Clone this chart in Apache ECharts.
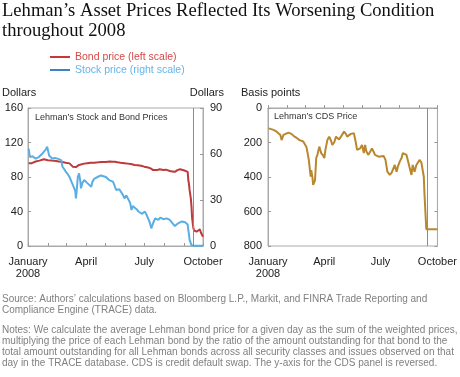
<!DOCTYPE html>
<html>
<head>
<meta charset="utf-8">
<script src="https://cdn.jsdelivr.net/npm/echarts@6/dist/echarts.min.js"></script>
<style>
html, body { margin: 0; padding: 0; background: #fff; }
#chart { width: 460px; height: 377px; }
</style>
</head>
<body>
<div id="chart"></div>
<script>
//*************** data (days counted from 1 January 2008) ***************
var monthTickDays = [0, 31, 60, 91, 121, 152, 182, 213, 244, 274];
var monthLabelDays = [0, 91, 182, 274];
var monthLabels = ['January\n2008', 'April', 'July', 'October'];
var bankruptcyDay = 258; // 15 September

var bondDays = [1,3,6,9,12,15,18,21,25,28,31,34,37,40,44,48,52,55,59,62,65,68,70,72,75,78,80,83,88,93,98,104,110,116,122,128,132,136,140,145,151,156,161,167,172,177,182,188,192,196,199,202,206,209,212,216,219,222,226,230,234,238,241,245,248,250,251,252,253,255,256,257,259,260,262,264,266,269,271,273,274];
var bondPrice = [96,97.5,96,97,98,98.5,99,99.5,100.5,100,99.5,100,99,99,98.5,98,97.7,97,96.5,96,95.8,94,92,92,91.5,93,94,95,95.5,96,96.5,96.6,97,97.5,97.5,98,97.7,97.7,97,96.5,96,95.5,95,94,93.5,93,92,91,90,88,86,88,89,90,88,88.5,89,87,86.5,86,88,89,88,87.5,87,86,76.5,72,65,55,45.6,32,20.5,18,19,16.6,18,19.4,15,13,10.8];

var stockDays = [1,3,4,7,10,12,15,17,20,23,25,28,30,31,33,36,38,42,46,49,52,54,57,59,62,65,68,70,72,74,75,76,78,80,82,83,85,88,91,93,96,99,101,104,107,109,112,114,118,122,125,127,130,133,135,138,141,143,146,149,151,154,157,160,162,164,167,170,173,175,178,181,183,186,188,191,193,196,199,201,204,207,209,212,214,217,219,222,225,227,230,232,235,238,241,243,246,248,250,251,252,253,255,256,258,260,265,270,274];
var stockPrice = [63.5,58,57,58.5,59,57,56,58,59,60.5,61.5,63,64.8,63,59,58,57,57.5,57,56.5,56,51.7,50,48.5,47,45,42,40,38.7,36,31,35,45,47.4,42,37.6,41,43,42,41,40,38.7,42,44,45,45,46,46,45.5,45,44,43,42.5,42,40,36.5,35.4,37,36.5,33,31,33,32,28,23.5,26,25.6,24,22.5,22.4,21,21.5,22.4,20,19,15,11.5,15,18,17.5,17,18.5,19,17.5,17,18,18,17,15.9,14.5,13,14,14.8,15.5,16,15.9,15.5,15,14,10.4,7.8,4,3.6,0.6,0.2,0.1,0.1,0.1,0.1];

var cdsDays = [1,4,9,12,14,17,20,22,25,28,33,38,43,47,51,54,57,59,62,64,66,67,69,70,72,73,75,76,78,80,83,86,89,91,93,96,99,102,104,107,110,115,119,123,126,128,131,134,136,139,142,144,147,149,152,155,157,159,162,165,168,171,173,176,179,182,187,190,193,195,197,200,202,205,208,210,213,216,218,221,224,226,229,232,234,237,240,242,245,248,250,252,253,256,258,274];
var cdsPrice = [118,122,127,130,137,140,156,186,156,150,143,150,166,175,186,190,194,186,224,260,301,305,398,360,407,446,446,420,290,270,224,261,275,290,240,186,166,190,214,200,166,182,160,137,150,166,160,150,155,147,200,243,250,234,214,261,214,250,272,255,234,255,272,278,282,280,278,301,369,380,388,375,369,330,369,340,311,290,261,270,272,301,292,388,330,369,330,320,301,315,311,400,494,703,703,703];

var leftTicks = [0, 160, 40];
var rightTicks = [0, 90, 30];
var cdsTicks = [0, 800, 200];

//*************** helpers ***************
var SANS = 'Liberation Sans, Arial, sans-serif';

function pairs(days, values) {
    return days.map(function (d, i) { return [d, values[i]]; });
}

function text_title(text, pos, size, color, lh) {
    var t = {
        text: text,
        padding: 0,
        textStyle: { fontFamily: SANS, fontSize: size, fontWeight: 'normal', color: color, lineHeight: lh }
    };
    for (var k in pos) t[k] = pos[k];
    return t;
}

function x_axis(grid) {
    return {
        type: 'value', gridIndex: grid, min: 0, max: 274,
        splitLine: { show: false },
        axisLine: { show: true, lineStyle: { color: '#aaa' } },
        axisTick: { show: true, inside: true, length: 3, customValues: monthTickDays, lineStyle: { color: '#999' } },
        axisLabel: {
            customValues: monthLabelDays,
            formatter: function (v) { return monthLabels[monthLabelDays.indexOf(v)]; },
            fontFamily: SANS, fontSize: 11, color: '#222', margin: 10, lineHeight: 12
        }
    };
}

function y_axis(grid, pos, ticks, margin, showLabel, inverse) {
    return {
        type: 'value', gridIndex: grid, position: pos,
        min: ticks[0], max: ticks[1], interval: ticks[2], inverse: !!inverse,
        splitLine: { show: false },
        axisLine: { show: true, lineStyle: { color: '#aaa' } },
        axisTick: { show: true, inside: true, length: 3, lineStyle: { color: '#999' } },
        axisLabel: { show: showLabel, fontFamily: SANS, fontSize: 11, color: '#222', margin: margin }
    };
}

var sepLine = {
    silent: true, symbol: 'none', animation: false,
    label: { show: false },
    lineStyle: { color: '#8c8c8c', width: 1, type: 'solid' },
    data: [{ xAxis: bankruptcyDay }]
};

//*************** chart ***************
var chart_dom = document.getElementById('chart');
var chart = echarts.init(chart_dom);

var option = {
    animation: false,
    backgroundColor: '#fff',
    title: [
        {
            text: 'Lehman\u2019s Asset Prices Reflected Its Worsening Condition\nthroughout 2008',
            left: 2, top: 1, padding: 0,
            textStyle: { fontFamily: 'Liberation Serif, serif', fontSize: 18.6, fontWeight: 'normal', color: '#111', lineHeight: 20 }
        },
        text_title('Dollars', { left: 2, top: 86 }, 11, '#222', 13),
        text_title('Dollars', { right: 236, top: 86 }, 11, '#222', 13),
        text_title('Basis points', { left: 241, top: 86 }, 11, '#222', 13),
        text_title('Lehman\u2019s Stock and Bond Prices', { left: 35, top: 112 }, 9, '#333', 11),
        text_title('Lehman\u2019s CDS Price', { left: 274, top: 111 }, 9, '#333', 11),
        text_title('Source: Authors\u2019 calculations based on Bloomberg L.P., Markit, and FINRA Trade Reporting and\nCompliance Engine (TRACE) data.',
            { left: 2, top: 294 }, 10, '#808080', 11),
        text_title('Notes: We calculate the average Lehman bond price for a given day as the sum of the weighted prices,\nmultiplying the price of each Lehman bond by the ratio of the amount outstanding for that bond to the\ntotal amount outstanding for all Lehman bonds across all security classes and issues observed on that\nday in the TRACE database. CDS is credit default swap. The y-axis for the CDS panel is reversed.',
            { left: 2, top: 325 }, 10, '#808080', 11)
    ],
    legend: {
        orient: 'vertical', left: 50, top: 51, padding: 0,
        itemWidth: 20, itemHeight: 2, itemGap: 1, icon: 'rect',
        selectedMode: false,
        textStyle: { fontFamily: SANS, fontSize: 10.5, lineHeight: 12 },
        data: [
            { name: 'Bond price (left scale)', itemStyle: { color: '#c8383b' }, textStyle: { color: '#d24a48' } },
            { name: 'Stock price (right scale)', itemStyle: { color: '#3d80cc' }, textStyle: { color: '#62b5ea' } }
        ]
    },
    grid: [
        { left: 28, top: 108, width: 175, height: 138, show: true, borderColor: '#aaa', borderWidth: 1 },
        { left: 268, top: 108, width: 172, height: 138, show: true, borderColor: '#aaa', borderWidth: 1 }
    ],
    xAxis: [x_axis(0), x_axis(1)],
    yAxis: [
        y_axis(0, 'left', leftTicks, 5, true),
        y_axis(0, 'right', rightTicks, 7, true),
        y_axis(1, 'left', cdsTicks, 6, true, true),
        y_axis(1, 'right', cdsTicks, 6, false, true)
    ],
    series: [
        {
            name: 'Bond price (left scale)', type: 'line', xAxisIndex: 0, yAxisIndex: 0,
            data: pairs(bondDays, bondPrice), showSymbol: false,
            lineStyle: { color: '#be3a3a', width: 2 }, itemStyle: { color: '#be3a3a' },
            markLine: sepLine
        },
        {
            name: 'Stock price (right scale)', type: 'line', xAxisIndex: 0, yAxisIndex: 1,
            data: pairs(stockDays, stockPrice), showSymbol: false,
            lineStyle: { color: '#5aaee3', width: 2 }, itemStyle: { color: '#5aaee3' }
        },
        {
            name: 'CDS price', type: 'line', xAxisIndex: 1, yAxisIndex: 2,
            data: pairs(cdsDays, cdsPrice), showSymbol: false,
            lineStyle: { color: '#b9872f', width: 2 }, itemStyle: { color: '#b9872f' },
            markLine: sepLine
        }
    ]
};

chart.setOption(option);
</script>
</body>
</html>
